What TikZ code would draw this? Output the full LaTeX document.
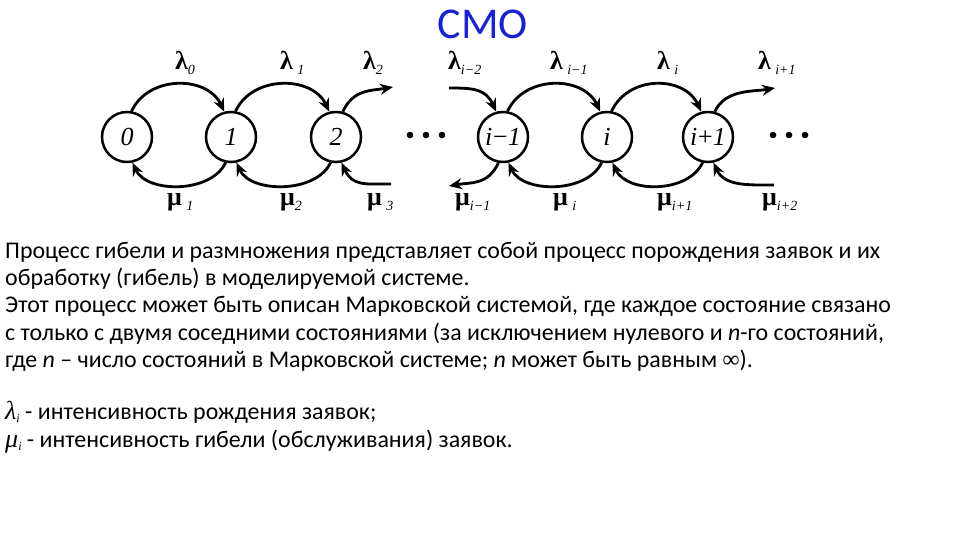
\documentclass[tikz,border=0pt]{standalone}
\usepackage{fontspec}
\setmainfont{Carlito}
\newfontfamily\serf{Liberation Serif}
\usetikzlibrary{arrows.meta}
\definecolor{titleblue}{RGB}{25,35,205}
\newcommand\sbs[1]{\raisebox{-5pt}{\fontsize{14}{14}\selectfont\mdseries\itshape #1}}
\begin{document}
\begin{tikzpicture}[x=1pt,y=-1pt,
  stnode/.style={circle, draw, line width=2.5pt, minimum size=50pt, inner sep=0pt,
    font=\serf\itshape\fontsize{26}{26}\selectfont},
  arr/.style={line width=2.8pt, -{Stealth[length=13pt,width=11pt]}},
  lab/.style={anchor=base west, inner sep=0pt, font=\serf\bfseries\fontsize{26}{26}\selectfont},
  txt/.style={anchor=base west, inner sep=0pt, font=\fontsize{23.9}{27}\selectfont},
  dotfill/.style={fill=black}]
\useasboundingbox (0,0) rectangle (960,540);
% title
\node[anchor=base, inner sep=0pt, text=titleblue, font=\fontsize{44}{44}\selectfont] (title) at (483,39) {СМО};
% states
\node[stnode] (n0) at (127,137) {0};
\node[stnode] (n1) at (231,137) {1};
\node[stnode] (n2) at (336,137) {2};
\node[stnode] (m1) at (503,137) {i\kern-1pt−\kern-1pt1};
\node[stnode] (m0) at (607,137) {i};
\node[stnode] (p1) at (708,137) {i\kern-1pt+\kern-1pt1};
% free ends
\coordinate (l2end) at (393,87);
\coordinate (mu3start) at (391,184);
\coordinate (lim2start) at (449,88);
\coordinate (mim1end) at (449,186);
\coordinate (lip1end) at (775,88);
\coordinate (mip2start) at (774,185);
% upper arcs (y axis points down: negative angles point up)
\draw[arr] (n0.80) .. controls +(-65:40) and +(-115:40) .. (n1.105);
\draw[arr] (n1.80) .. controls +(-65:40) and +(-115:40) .. (n2.105);
\draw[arr] (n2.75) .. controls +(-65:25) and +(170:22) .. (l2end);
\draw[arr] (lim2start) .. controls +(0:25) and +(-115:25) .. (m1.105);
\draw[arr] (m1.80) .. controls +(-65:40) and +(-115:40) .. (m0.105);
\draw[arr] (m0.80) .. controls +(-65:40) and +(-115:40) .. (p1.105);
\draw[arr] (p1.75) .. controls +(-65:25) and +(170:22) .. (lip1end);
% lower arcs
\draw[arr] (n1.258) .. controls +(115:34) and +(65:34) .. (n0.282);
\draw[arr] (n2.258) .. controls +(115:34) and +(65:34) .. (n1.282);
\draw[arr] (mu3start) .. controls +(180:26) and +(65:26) .. (n2.282);
\draw[arr] (m1.260) .. controls +(115:25) and +(-10:22) .. (mim1end);
\draw[arr] (m0.258) .. controls +(115:34) and +(65:34) .. (m1.282);
\draw[arr] (p1.258) .. controls +(115:34) and +(65:34) .. (m0.282);
\draw[arr] (mip2start) .. controls +(180:26) and +(65:26) .. (p1.282);
% dots
\foreach \x in {410,426,442} \fill[dotfill] (\x,135) circle (3.3);
\foreach \x in {773,789,805} \fill[dotfill] (\x,135) circle (3.3);
% rate labels
\node[lab] (L0) at (175,70) {λ\sbs{0}};
\node[lab] (L1) at (280,70) {λ\,\sbs{1}};
\node[lab] (L2) at (363,70) {λ\sbs{2}};
\node[lab] (Lim2) at (448,70) {λ\sbs{i−2}};
\node[lab] (Lim1) at (550,70) {λ\,\sbs{i−1}};
\node[lab] (Li) at (657,70) {λ\,\sbs{i}};
\node[lab] (Lip1) at (758,70) {λ\,\sbs{i+1}};
\node[lab] (M1) at (167,205) {μ\,\sbs{1}};
\node[lab] (M2) at (280,205) {μ\sbs{2}};
\node[lab] (M3) at (367,205) {μ\,\sbs{3}};
\node[lab] (Mim1) at (455,205) {μ\sbs{i−1}};
\node[lab] (Mi) at (553,205) {μ\,\sbs{i}};
\node[lab] (Mip1) at (657,205) {μ\sbs{i+1}};
\node[lab] (Mip2) at (762,205) {μ\sbs{i+2}};
% body text
\node[txt] (t1) at (5,258) {Процесс гибели и размножения представляет собой процесс порождения заявок и их};
\node[txt] (t2) at (5,285) {обработку (гибель) в моделируемой системе.};
\node[txt] (t3) at (5,312.5) {Этот процесс может быть описан Марковской системой, где каждое состояние связано};
\node[txt] (t4) at (5,340) {с только с двумя соседними состояниями (за исключением нулевого и \textit{n}-го состояний,};
\node[txt] (t5) at (5,367.5) {где \textit{n} – число состояний в Марковской системе; \textit{n} может быть равным {\serf ∞}).};
\node[txt] (t6) at (5,419) {{\serf\itshape\fontsize{26}{26}\selectfont λ\raisebox{-3pt}{\fontsize{12}{12}\selectfont i}} - интенсивность рождения заявок;};
\node[txt] (t7) at (5,447) {{\serf\itshape\fontsize{26}{26}\selectfont μ\raisebox{-3pt}{\fontsize{12}{12}\selectfont i}} - интенсивность гибели (обслуживания) заявок.};
\end{tikzpicture}
\end{document}
